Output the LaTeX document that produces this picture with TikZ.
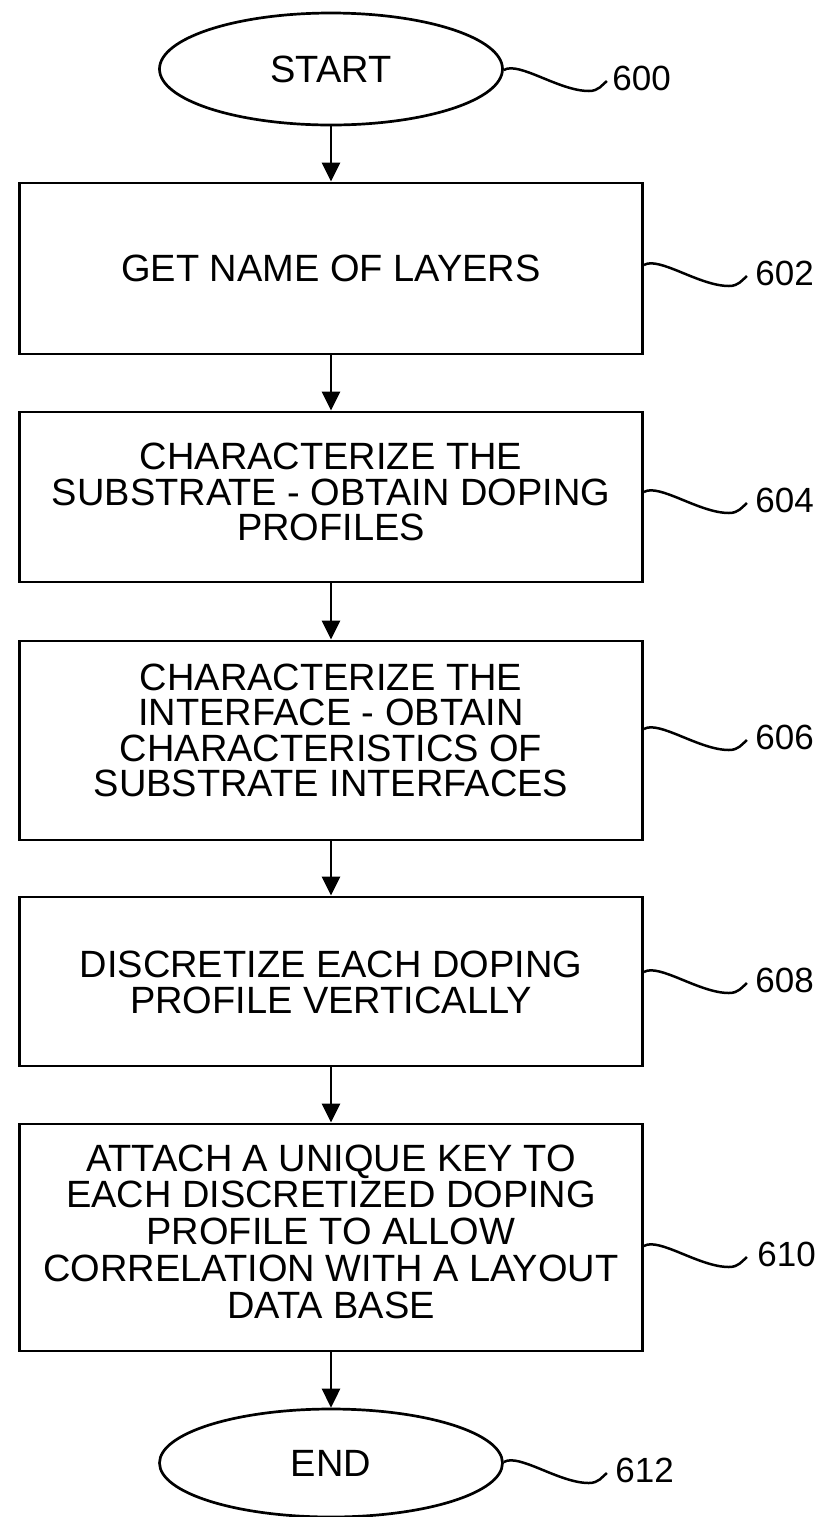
\documentclass[tikz,border=0pt]{standalone}
\usepackage{fontspec}
\setmainfont{Liberation Sans}
\usetikzlibrary{shapes.geometric,arrows.meta,calc}
\newcommand\squig[2]{%
  \coordinate (sq#2) at ($(#1.east |- #2.west)+(0,-8)$);
  \draw[lead] (sq#2) .. controls ($(sq#2)+(15,-9)$) and ($(sq#2)+(55,21)$) .. ($(sq#2)+(85,21)$)
     .. controls ($(sq#2)+(95,21)$) and ($(sq#2)+(98,15)$) .. ($(sq#2)+(103,11)$);}
\begin{document}
\begin{tikzpicture}[x=0.5pt,y=-0.5pt,
  stepbox/.style={draw,line width=1.45pt,rectangle,minimum width=311.5pt,inner sep=0pt},
  steptext/.style={inner sep=0pt,align=center,font=\fontsize{19}{17.6}\selectfont},
  term/.style={draw,line width=1.35pt,ellipse,minimum width=171.5pt,minimum height=56pt,inner sep=0pt,font=\fontsize{19}{22}\selectfont},
  flow/.style={line width=1.45pt,-{Triangle[length=9.5pt,width=9pt]}},
  lead/.style={line width=1.25pt},
  ref/.style={font=\fontsize{17.5}{20}\selectfont,inner sep=0pt,anchor=west}]
\useasboundingbox (0,0) rectangle (826,1517);
\node[term] (st) at (331,69) {START};
\node[stepbox,minimum height=85.5pt] (b602) at (331,268.5) {};
\node[stepbox,minimum height=85pt] (b604) at (331,497) {};
\node[stepbox,minimum height=99.5pt] (b606) at (331,740.5) {};
\node[stepbox,minimum height=84.5pt] (b608) at (331,981.5) {};
\node[stepbox,minimum height=113.5pt] (b610) at (331,1237.5) {};
\node[term,minimum height=54pt] (fin) at (331,1463) {END};

\node[steptext] (t602) at (b602.center) {GET NAME OF LAYERS};
\node[steptext,yshift=2.5pt] (t604) at (b604.center) {CHARACTERIZE THE\\SUBSTRATE - OBTAIN DOPING\\PROFILES};
\node[steptext,yshift=5pt] (t606) at (b606.center) {CHARACTERIZE THE\\INTERFACE - OBTAIN\\CHARACTERISTICS OF\\SUBSTRATE INTERFACES};
\node[steptext,yshift=-0.5pt] (t608) at (b608.center) {DISCRETIZE EACH DOPING\\PROFILE VERTICALLY};
\node[steptext,yshift=3pt,font=\fontsize{19}{18.4}\selectfont] (t610) at (b610.center) {ATTACH A UNIQUE KEY TO\\EACH DISCRETIZED DOPING\\PROFILE TO ALLOW\\CORRELATION WITH A LAYOUT\\DATA BASE};

\draw[flow] (st.south) -- (b602.north);
\draw[flow] (b602.south) -- (b604.north);
\draw[flow] (b604.south) -- (b606.north);
\draw[flow] (b606.south) -- (b608.north);
\draw[flow] (b608.south) -- (b610.north);
\draw[flow] (b610.south) -- (fin.north);

\node[ref] (l600) at (612,78) {600};
\node[ref] (l602) at (755,273) {602};
\node[ref] (l604) at (755,500) {604};
\node[ref] (l606) at (755,737) {606};
\node[ref] (l608) at (755,980) {608};
\node[ref] (l610) at (757,1254) {610};
\node[ref] (l612) at (615,1470) {612};

\squig{st}{l600}
\squig{b602}{l602}
\squig{b604}{l604}
\squig{b606}{l606}
\squig{b608}{l608}
\squig{b610}{l610}
\squig{fin}{l612}
\end{tikzpicture}
\end{document}
